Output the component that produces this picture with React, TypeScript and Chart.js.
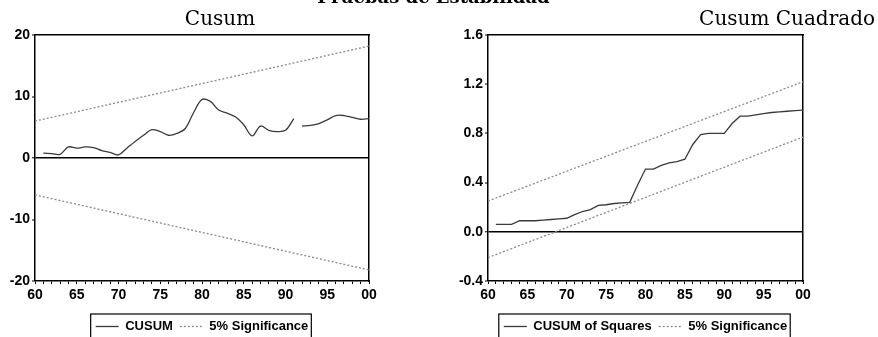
import React, { useEffect, useRef } from "react";
import { Chart, registerables } from "chart.js";

Chart.register(...registerables);

// ---------- DATA ----------
const mainTitle = "Pruebas de Estabilidad";

const cusumTitle = "Cusum";
const cusumYears = [
  1961, 1962, 1963, 1964, 1965, 1966, 1967, 1968, 1969, 1970,
  1971, 1972, 1973, 1974, 1975, 1976, 1977, 1978, 1979, 1980,
  1981, 1982, 1983, 1984, 1985, 1986, 1987, 1988, 1989, 1990,
  1991, 1991.5, 1992, 1993, 1994, 1995, 1996, 1997, 1998, 1999, 2000,
];
const cusumValues: (number | null)[] = [
  0.8, 0.7, 0.6, 1.8, 1.6, 1.8, 1.7, 1.2, 0.9, 0.5,
  1.6, 2.7, 3.7, 4.6, 4.3, 3.7, 4.0, 4.8, 7.4, 9.5,
  9.2, 7.8, 7.3, 6.7, 5.4, 3.6, 5.2, 4.5, 4.3, 4.5,
  6.4, null, 5.2, 5.3, 5.6, 6.2, 6.9, 6.9, 6.6, 6.3, 6.4,
];
const sigYears = [1960, 2000];
const cusumUpper = [6.0, 18.2];
const cusumLower = [-6.0, -18.2];

const sqTitle = "Cusum Cuadrado";
const sqYears = [
  1961, 1962, 1963, 1964, 1965, 1966, 1967, 1968, 1969, 1970,
  1971, 1972, 1973, 1974, 1975, 1976, 1977, 1978, 1979, 1980,
  1981, 1982, 1983, 1984, 1985, 1986, 1987, 1988, 1989, 1990,
  1991, 1992, 1993, 1994, 1995, 1996, 1997, 1998, 1999, 2000,
];
const sqValues = [
  0.06, 0.06, 0.06, 0.09, 0.09, 0.09, 0.095, 0.10, 0.105, 0.11,
  0.14, 0.165, 0.18, 0.215, 0.22, 0.23, 0.235, 0.24, 0.38, 0.51,
  0.51, 0.54, 0.56, 0.57, 0.59, 0.71, 0.79, 0.80, 0.80, 0.80,
  0.88, 0.94, 0.94, 0.95, 0.96, 0.97, 0.975, 0.98, 0.985, 0.99,
];
const sqUpper = [0.25, 1.22];
const sqLower = [-0.21, 0.77];

const cusumYTicks = { min: -20, max: 20, step: 10, decimals: 0 };
const sqYTicks = { min: -0.4, max: 1.6, step: 0.4, decimals: 1 };
const xRange = { min: 1960, max: 2000, labelEvery: 5 };

const cusumLegend = ["CUSUM", "5% Significance"];
const sqLegend = ["CUSUM of Squares", "5% Significance"];

// ---------- STYLE ----------
const tickFont = { family: "'Liberation Sans', Arial, sans-serif", size: 14, weight: "bold" as const };
const legendFont = { family: "'Liberation Sans', Arial, sans-serif", size: 13, weight: "bold" as const };
const titleFont = { family: "'DejaVu Serif', serif", size: 20, weight: "normal" as const };

const legendBoxPlugin = {
  id: "legendBox",
  afterDraw(chart: any) {
    const lg = chart.legend;
    if (!lg || !lg.legendHitBoxes || !lg.legendHitBoxes.length) return;
    const hb = lg.legendHitBoxes;
    const left = hb[0].left - 5;
    const last = hb[hb.length - 1];
    const right = last.left + last.width + 3;
    const top = hb[0].top - 6;
    const ctx = chart.ctx;
    ctx.save();
    ctx.strokeStyle = "#000";
    ctx.lineWidth = 1.2;
    ctx.setLineDash([]);
    ctx.strokeRect(left, top, right - left, 40);
    ctx.restore();
  },
};

type Cfg = {
  title: string;
  titleAlign: "center" | "end";
  main: { years: number[]; values: (number | null)[]; label: string; tension: number };
  upper: number[];
  lower: number[];
  sigLabel: string;
  yTicks: { min: number; max: number; step: number; decimals: number };
  yWidth: number;
  rightWidth: number;
};

function buildConfig(c: Cfg): any {
  const toPts = (xs: number[], ys: (number | null)[]) => xs.map((x, i) => ({ x, y: ys[i] }));
  const lineColor = "#3a3a3a";
  const sigColor = "#8a8a8a";
  return {
    type: "line",
    data: {
      datasets: [
        {
          label: c.main.label,
          data: toPts(c.main.years, c.main.values),
          borderColor: lineColor,
          borderWidth: 1.3,
          pointRadius: 0,
          tension: c.main.tension,
          spanGaps: false,
          fill: false,
        },
        {
          label: c.sigLabel,
          data: toPts(sigYears, c.upper),
          borderColor: sigColor,
          borderWidth: 1.3,
          borderDash: [2, 2],
          pointRadius: 0,
          fill: false,
        },
        {
          label: c.sigLabel,
          hideInLegend: true,
          data: toPts(sigYears, c.lower),
          borderColor: sigColor,
          borderWidth: 1.3,
          borderDash: [2, 2],
          pointRadius: 0,
          fill: false,
        },
      ],
    },
    options: {
      responsive: false,
      maintainAspectRatio: false,
      animation: false,
      events: [],
      layout: { padding: 0 },
      plugins: {
        tooltip: { enabled: false },
        title: {
          display: true,
          text: c.title,
          align: c.titleAlign,
          color: "#000",
          font: titleFont,
          padding: { top: 8, bottom: 3 },
        },
        legend: {
          display: true,
          position: "bottom",
          fullSize: false,
          align: "center",
          labels: {
            usePointStyle: true,
            pointStyle: "line",
            pointStyleWidth: 23,
            boxHeight: 13,
            padding: 7,
            color: "#000",
            font: legendFont,
            generateLabels: (chart: any) =>
              chart.data.datasets
                .map((ds: any, i: number) => ({ ds, i }))
                .filter((o: any) => !o.ds.hideInLegend)
                .map((o: any) => ({
                  text: o.ds.label,
                  strokeStyle: o.ds.borderColor,
                  fillStyle: o.ds.borderColor,
                  lineWidth: o.ds.borderWidth,
                  lineDash: o.ds.borderDash || [],
                  pointStyle: "line",
                  fontColor: "#000",
                  hidden: false,
                  datasetIndex: o.i,
                })),
          },
        },
      },
      scales: {
        x: {
          type: "linear",
          position: "bottom",
          min: xRange.min,
          max: xRange.max,
          afterFit: (s: any) => {
            s.height = 32;
          },
          ticks: {
            stepSize: 1,
            autoSkip: false,
            maxRotation: 0,
            color: "#000",
            font: tickFont,
            padding: 3,
            callback: (v: any) => {
              const n = Math.round(Number(v));
              return n % xRange.labelEvery === 0 ? String(n % 100).padStart(2, "0") : "";
            },
          },
          grid: {
            display: true,
            drawOnChartArea: false,
            drawTicks: true,
            tickLength: 3,
            tickColor: "#000",
            tickWidth: 1,
          },
          border: { display: true, color: "#000", width: 1.5 },
        },
        x2: {
          type: "linear",
          position: "top",
          min: xRange.min,
          max: xRange.max,
          afterFit: (s: any) => {
            s.height = 0;
          },
          ticks: { display: false },
          grid: { display: false, drawTicks: false },
          border: { display: true, color: "#000", width: 1.5 },
        },
        y: {
          type: "linear",
          position: "left",
          min: c.yTicks.min,
          max: c.yTicks.max,
          afterFit: (s: any) => {
            s.width = c.yWidth;
          },
          ticks: {
            stepSize: c.yTicks.step,
            color: "#000",
            font: tickFont,
            padding: 2,
            callback: (v: any) => Number(v).toFixed(c.yTicks.decimals),
          },
          grid: {
            display: true,
            drawOnChartArea: true,
            drawTicks: true,
            tickLength: 3,
            tickColor: "#000",
            tickWidth: 1,
            color: (ctx: any) => (ctx.tick && Math.abs(ctx.tick.value) < 1e-9 ? "#000" : "rgba(0,0,0,0)"),
            lineWidth: (ctx: any) => (ctx.tick && Math.abs(ctx.tick.value) < 1e-9 ? 1.5 : 0),
          },
          border: { display: true, color: "#000", width: 1.5 },
        },
        y2: {
          type: "linear",
          position: "right",
          min: c.yTicks.min,
          max: c.yTicks.max,
          afterFit: (s: any) => {
            s.width = c.rightWidth;
          },
          ticks: { display: false },
          grid: { display: false, drawTicks: false },
          border: { display: true, color: "#000", width: 1.5 },
        },
      },
    },
    plugins: [legendBoxPlugin],
  };
}

function ChartCanvas({ cfg, width, height }: { cfg: Cfg; width: number; height: number }) {
  const ref = useRef<HTMLCanvasElement | null>(null);
  useEffect(() => {
    if (!ref.current) return;
    const chart = new Chart(ref.current, buildConfig(cfg));
    return () => chart.destroy();
  }, []);
  return <canvas ref={ref} width={width} height={height} style={{ display: "block" }} />;
}

export default function App() {
  const leftCfg: Cfg = {
    title: cusumTitle,
    titleAlign: "center",
    main: { years: cusumYears, values: cusumValues, label: cusumLegend[0], tension: 0.35 },
    upper: cusumUpper,
    lower: cusumLower,
    sigLabel: cusumLegend[1],
    yTicks: cusumYTicks,
    yWidth: 35,
    rightWidth: 71,
  };
  const rightCfg: Cfg = {
    title: sqTitle,
    titleAlign: "end",
    main: { years: sqYears, values: sqValues, label: sqLegend[0], tension: 0 },
    upper: sqUpper,
    lower: sqLower,
    sigLabel: sqLegend[1],
    yTicks: sqYTicks,
    yWidth: 48,
    rightWidth: 72,
  };
  return (
    <div
      style={{
        position: "fixed",
        left: 0,
        top: 0,
        width: 878,
        height: 337,
        overflow: "hidden",
        background: "#fff",
      }}
    >
      <div style={{ position: "absolute", left: 0, top: 0, width: 440, height: 343 }}>
        <ChartCanvas cfg={leftCfg} width={440} height={343} />
      </div>
      <div style={{ position: "absolute", left: 440, top: 0, width: 435, height: 343 }}>
        <ChartCanvas cfg={rightCfg} width={435} height={343} />
      </div>
      <div
        style={{
          position: "absolute",
          left: 0,
          top: -12,
          width: 867,
          textAlign: "center",
          fontFamily: "'DejaVu Serif', serif",
          fontWeight: "bold",
          fontSize: 18,
          lineHeight: "18px",
          color: "#000",
          whiteSpace: "nowrap",
        }}
      >
        {mainTitle}
      </div>
    </div>
  );
}
